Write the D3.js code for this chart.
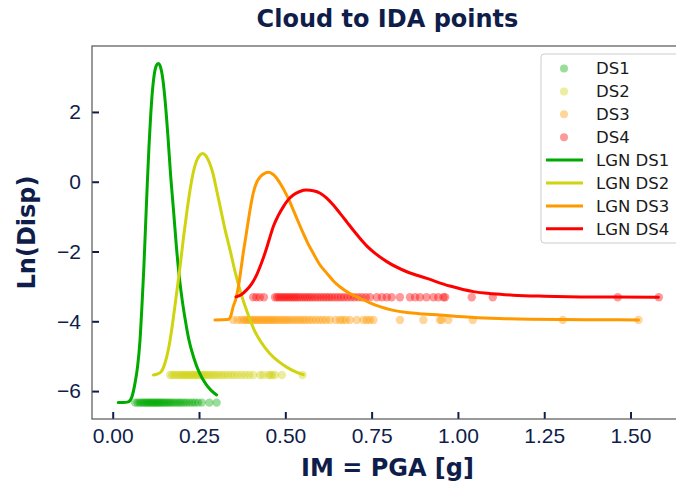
<!DOCTYPE html>
<html>
<head>
<meta charset="utf-8">
<script src="https://cdn.jsdelivr.net/npm/d3@7"></script>
<style>
  body { margin: 0; background: #fff; }
  svg { display: block; font-family: "DejaVu Sans", sans-serif; }
  .tick text { fill: #0f1d4a; font-size: 21px; }
  .tick line { stroke: #0f1d4a; stroke-width: 2; }
</style>
</head>
<body>
<div id="chart"></div>
<script>
// damage states, cloud levels (ln disp) and colours
const dsNames = ["DS1", "DS2", "DS3", "DS4"];
const dsLevel = [-6.33, -5.54, -3.96, -3.31];
const dsColor = ["#00aa00", "#d0d30f", "#ff9900", "#ff0000"];

// IM values of the cloud points, one list per damage state
const ds1X = [0.065, 0.072, 0.078, 0.083, 0.088, 0.092, 0.097, 0.101, 0.105, 0.109, 0.113, 0.117, 0.121, 0.125,
  0.129, 0.133, 0.137, 0.141, 0.146, 0.150, 0.155, 0.160, 0.165, 0.170, 0.176, 0.182, 0.188, 0.194, 0.200,
  0.207, 0.214, 0.222, 0.230, 0.238, 0.247, 0.258, 0.280, 0.301];
const ds2X = [0.166, 0.172, 0.178, 0.184, 0.190, 0.196, 0.201, 0.206, 0.211, 0.216, 0.221, 0.226, 0.231, 0.236,
  0.241, 0.246, 0.251, 0.256, 0.262, 0.268, 0.274, 0.280, 0.287, 0.294, 0.301, 0.309, 0.317, 0.325, 0.334,
  0.343, 0.352, 0.362, 0.373, 0.384, 0.395, 0.407, 0.427, 0.436, 0.451, 0.457, 0.462, 0.470, 0.490, 0.550];
const ds3X = [0.349, 0.362, 0.372, 0.380, 0.386, 0.392, 0.398, 0.404, 0.410, 0.416, 0.422, 0.428, 0.434, 0.440,
  0.446, 0.452, 0.458, 0.464, 0.470, 0.477, 0.484, 0.491, 0.498, 0.505, 0.512, 0.520, 0.528, 0.536, 0.544,
  0.552, 0.560, 0.569, 0.578, 0.588, 0.598, 0.608, 0.618, 0.629, 0.646, 0.658, 0.666, 0.675, 0.687, 0.707,
  0.726, 0.736, 0.745, 0.755, 0.832, 0.900, 0.948, 0.953, 0.972, 1.043, 1.304, 1.523];
const ds4X = [0.407, 0.416, 0.426, 0.438, 0.470, 0.476, 0.482, 0.488, 0.494, 0.500, 0.506, 0.512, 0.518, 0.524,
  0.530, 0.536, 0.543, 0.550, 0.557, 0.564, 0.571, 0.578, 0.586, 0.594, 0.602, 0.610, 0.618, 0.626, 0.634,
  0.643, 0.652, 0.661, 0.670, 0.680, 0.690, 0.700, 0.711, 0.722, 0.733, 0.745, 0.765, 0.780, 0.794, 0.808,
  0.832, 0.861, 0.876, 0.890, 0.909, 0.929, 0.943, 0.958, 0.963, 1.040, 1.101, 1.463, 1.582];

// LGN curves
const lgn1X = [0.016, 0.030, 0.045, 0.055, 0.065, 0.072, 0.079, 0.085, 0.090, 0.095, 0.100, 0.105, 0.110, 0.115,
  0.120, 0.126, 0.132, 0.138, 0.145, 0.152, 0.160, 0.168, 0.176, 0.184, 0.192, 0.200, 0.210, 0.220, 0.235,
  0.250, 0.270, 0.285, 0.301];
const lgn1Y = [-6.33, -6.33, -6.31, -6.18, -5.75, -5.30, -4.55, -3.50, -2.50, -1.30, -0.10, 1.00, 1.90, 2.60,
  3.05, 3.32, 3.39, 3.30, 2.95, 2.30, 1.30, 0.15, -0.80, -1.80, -2.65, -3.30, -3.95, -4.50, -5.05,
  -5.45, -5.80, -5.98, -6.11];
const lgn2X = [0.118, 0.130, 0.140, 0.148, 0.157, 0.166, 0.175, 0.185, 0.195, 0.205, 0.215, 0.224, 0.233, 0.243,
  0.253, 0.261, 0.270, 0.280, 0.290, 0.301, 0.312, 0.325, 0.340, 0.355, 0.370, 0.390, 0.410, 0.430, 0.455,
  0.480, 0.505, 0.530, 0.552];
const lgn2Y = [-5.54, -5.51, -5.45, -5.30, -5.00, -4.55, -3.95, -3.20, -2.44, -1.60, -0.85, -0.24, 0.25, 0.60,
  0.77, 0.81, 0.74, 0.55, 0.25, -0.24, -0.75, -1.35, -1.96, -2.60, -3.15, -3.75, -4.25, -4.60, -4.92,
  -5.15, -5.32, -5.45, -5.53];
const lgn3X = [0.296, 0.334, 0.342, 0.349, 0.357, 0.364, 0.371, 0.378, 0.386, 0.393, 0.400, 0.407, 0.417, 0.427,
  0.440, 0.451, 0.463, 0.475, 0.487, 0.499, 0.511, 0.523, 0.537, 0.552, 0.566, 0.581, 0.600, 0.620, 0.640,
  0.658, 0.686, 0.716, 0.745, 0.774, 0.810, 0.852, 0.900, 0.948, 1.000, 1.045, 1.120, 1.209, 1.300, 1.400, 1.523];
const lgn3Y = [-3.96, -3.95, -3.85, -3.58, -3.35, -3.01, -2.55, -2.05, -1.55, -1.10, -0.68, -0.33, -0.02, 0.14,
  0.24, 0.27, 0.22, 0.10, -0.08, -0.29, -0.53, -0.81, -1.14, -1.48, -1.78, -2.05, -2.38, -2.62, -2.85,
  -3.01, -3.20, -3.34, -3.47, -3.58, -3.68, -3.75, -3.79, -3.82, -3.86, -3.89, -3.92, -3.94, -3.95, -3.955, -3.96];
const lgn4X = [0.357, 0.372, 0.388, 0.403, 0.417, 0.429, 0.441, 0.453, 0.465, 0.479, 0.494, 0.508, 0.523, 0.542,
  0.562, 0.581, 0.601, 0.620, 0.639, 0.658, 0.678, 0.697, 0.716, 0.735, 0.755, 0.794, 0.852, 0.910, 0.977,
  1.045, 1.100, 1.160, 1.250, 1.354, 1.450, 1.581];
const lgn4Y = [-3.30, -3.24, -3.10, -2.92, -2.67, -2.38, -2.05, -1.67, -1.29, -0.98, -0.72, -0.52, -0.38, -0.28,
  -0.24, -0.26, -0.33, -0.47, -0.67, -0.90, -1.15, -1.39, -1.62, -1.83, -2.01, -2.29, -2.58, -2.77, -2.99,
  -3.15, -3.21, -3.25, -3.28, -3.30, -3.305, -3.31];

const xTicks = [0, 0.25, 0.5, 0.75, 1.0, 1.25, 1.5];
const yTicks = [-6, -4, -2, 0, 2];

const pointsX = [ds1X, ds2X, ds3X, ds4X];
const curvesX = [lgn1X, lgn2X, lgn3X, lgn4X];
const curvesY = [lgn1Y, lgn2Y, lgn3Y, lgn4Y];

const width = 676, height = 483;
const navy = "#0f1d4a";

let svg = d3.select("#chart").append("svg")
  .attr("width", width)
  .attr("height", height);

// plot box (right side runs past the window, like the original)
let plot = {left: 92, top: 46, right: 683, bottom: 419};

let x = d3.scaleLinear().domain([-0.06, 1.652]).range([plot.left, plot.right]);
let y = d3.scaleLinear().domain([-6.80, 3.89]).range([plot.bottom, plot.top]);

svg.append("clipPath").attr("id", "clip")
  .append("rect")
  .attr("x", plot.left).attr("y", plot.top)
  .attr("width", plot.right - plot.left).attr("height", plot.bottom - plot.top);

// axes, ticks pointing in
let xAxis = svg.append("g")
  .attr("transform", `translate(0,${plot.bottom})`)
  .call(d3.axisBottom(x).tickValues(xTicks).tickFormat(d3.format(".2f")).tickSize(-7).tickPadding(9));
let yAxis = svg.append("g")
  .attr("transform", `translate(${plot.left},0)`)
  .call(d3.axisLeft(y).tickValues(yTicks).tickFormat(d3.format("d")).tickSize(-7).tickPadding(11));
xAxis.select(".domain").remove();
yAxis.select(".domain").remove();

let body = svg.append("g").attr("clip-path", "url(#clip)");

// cloud points
pointsX.forEach((xs, i) => {
  body.append("g").selectAll("circle")
    .data(xs)
    .join("circle")
    .attr("cx", d => x(d))
    .attr("cy", y(dsLevel[i]))
    .attr("r", 4.2)
    .attr("fill", dsColor[i])
    .attr("fill-opacity", 0.4);
});

// fitted curves
let line = d3.line()
  .x(d => x(d[0]))
  .y(d => y(d[1]))
  .curve(d3.curveMonotoneX);

curvesX.forEach((xs, i) => {
  body.append("path")
    .datum(xs.map((v, j) => [v, curvesY[i][j]]))
    .attr("d", line)
    .attr("fill", "none")
    .attr("stroke", dsColor[i])
    .attr("stroke-width", 3)
    .attr("stroke-linejoin", "round")
    .attr("stroke-linecap", "round");
});

// frame
svg.append("rect")
  .attr("x", plot.left).attr("y", plot.top)
  .attr("width", plot.right - plot.left).attr("height", plot.bottom - plot.top)
  .attr("fill", "none")
  .attr("stroke", "#555")
  .attr("stroke-width", 1.2);

// titles
svg.append("text")
  .text("Cloud to IDA points")
  .attr("x", (plot.left + plot.right) / 2)
  .attr("y", 27)
  .attr("text-anchor", "middle")
  .attr("font-size", 24)
  .attr("font-weight", "bold")
  .attr("fill", navy);

svg.append("text")
  .text("IM = PGA [g]")
  .attr("x", (plot.left + plot.right) / 2)
  .attr("y", 476)
  .attr("text-anchor", "middle")
  .attr("font-size", 24)
  .attr("font-weight", "bold")
  .attr("fill", navy);

svg.append("text")
  .text("Ln(Disp)")
  .attr("transform", `translate(35,${(plot.top + plot.bottom) / 2}) rotate(-90)`)
  .attr("text-anchor", "middle")
  .attr("font-size", 24)
  .attr("font-weight", "bold")
  .attr("fill", navy);

// legend
let legend = svg.append("g").attr("transform", "translate(541,54)");
legend.append("rect")
  .attr("width", 150).attr("height", 189)
  .attr("rx", 3)
  .attr("fill", "#fff").attr("fill-opacity", 0.85)
  .attr("stroke", "#ccc");

let rowH = 22.9;
dsNames.forEach((name, i) => {
  let ry = 14.5 + i * rowH;
  legend.append("circle")
    .attr("cx", 23).attr("cy", ry).attr("r", 4)
    .attr("fill", dsColor[i]).attr("fill-opacity", 0.4);
  legend.append("text")
    .text(name)
    .attr("x", 55).attr("y", ry).attr("dy", "0.36em")
    .attr("font-size", 16.5).attr("fill", "#1a1a1a");
});
dsNames.forEach((name, i) => {
  let ry = 14.5 + (i + 4) * rowH;
  legend.append("line")
    .attr("x1", 5).attr("x2", 42).attr("y1", ry).attr("y2", ry)
    .attr("stroke", dsColor[i]).attr("stroke-width", 3);
  legend.append("text")
    .text("LGN " + name)
    .attr("x", 55).attr("y", ry).attr("dy", "0.36em")
    .attr("font-size", 16.5).attr("fill", "#1a1a1a");
});
</script>
</body>
</html>
